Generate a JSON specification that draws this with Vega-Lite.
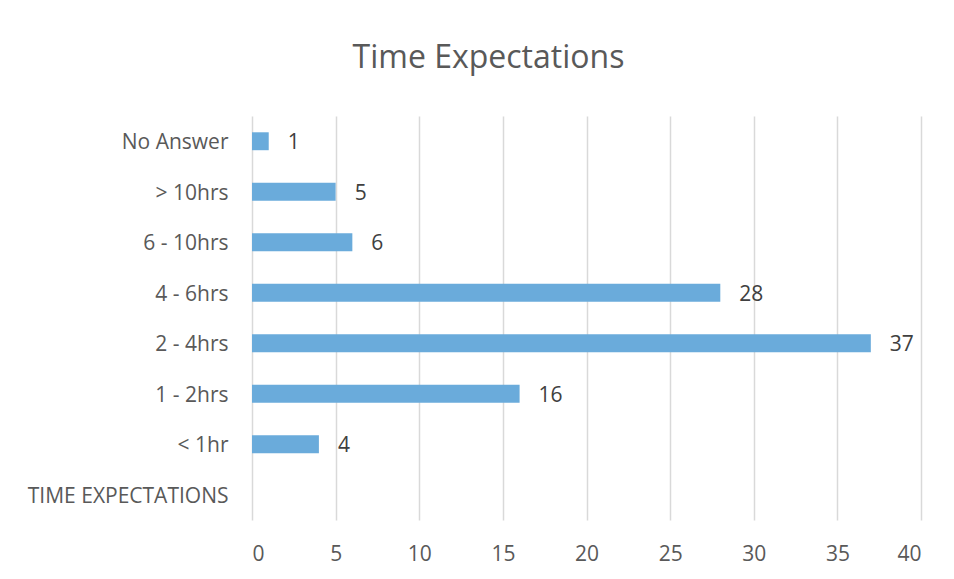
{
  "$schema": "https://vega.github.io/schema/vega-lite/v6.json",
  "width": 669,
  "height": 404,
  "autosize": "none",
  "padding": {"left": 252, "top": 116, "right": 33, "bottom": 59},
  "background": "white",
  "title": {
    "text": "Time Expectations",
    "anchor": "middle",
    "frame": "group",
    "dx": -98,
    "offset": 41,
    "font": "Open Sans",
    "fontSize": 32,
    "fontWeight": "normal",
    "color": "#595959"
  },
  "data": {
    "values": [
      {"category": "No Answer", "count": 1},
      {"category": "> 10hrs", "count": 5},
      {"category": "6 - 10hrs", "count": 6},
      {"category": "4 - 6hrs", "count": 28},
      {"category": "2 - 4hrs", "count": 37},
      {"category": "1 - 2hrs", "count": 16},
      {"category": "< 1hr", "count": 4}
    ]
  },
  "encoding": {
    "y": {
      "field": "category",
      "type": "nominal",
      "title": null,
      "scale": {
        "domain": ["No Answer", "> 10hrs", "6 - 10hrs", "4 - 6hrs", "2 - 4hrs", "1 - 2hrs", "< 1hr", "TIME EXPECTATIONS"],
        "paddingInner": 0.645,
        "paddingOuter": 0.3225
      },
      "axis": {
        "domain": false,
        "ticks": false,
        "labelPadding": 24,
        "labelLimit": 260,
        "labelFont": "Open Sans",
        "labelFontSize": 21,
        "labelColor": "#595959",
        "labelOffset": 2
      }
    },
    "x": {
      "field": "count",
      "type": "quantitative",
      "title": null,
      "scale": {"domain": [0, 40], "nice": false},
      "axis": {
        "values": [0, 5, 10, 15, 20, 25, 30, 35, 40],
        "domain": false,
        "ticks": false,
        "grid": true,
        "gridColor": "#d9d9d9",
        "gridWidth": 1.5,
        "labelPadding": 23,
        "labelFont": "Open Sans",
        "labelFontSize": 21,
        "labelColor": "#595959"
      }
    }
  },
  "layer": [
    {
      "mark": {"type": "bar", "color": "#6aabdb"}
    },
    {
      "mark": {
        "type": "text",
        "align": "left",
        "baseline": "middle",
        "dx": 19,
        "dy": 2,
        "font": "Open Sans",
        "fontSize": 21,
        "color": "#404040"
      },
      "encoding": {"text": {"field": "count", "type": "quantitative"}}
    }
  ],
  "config": {"view": {"stroke": null}}
}
